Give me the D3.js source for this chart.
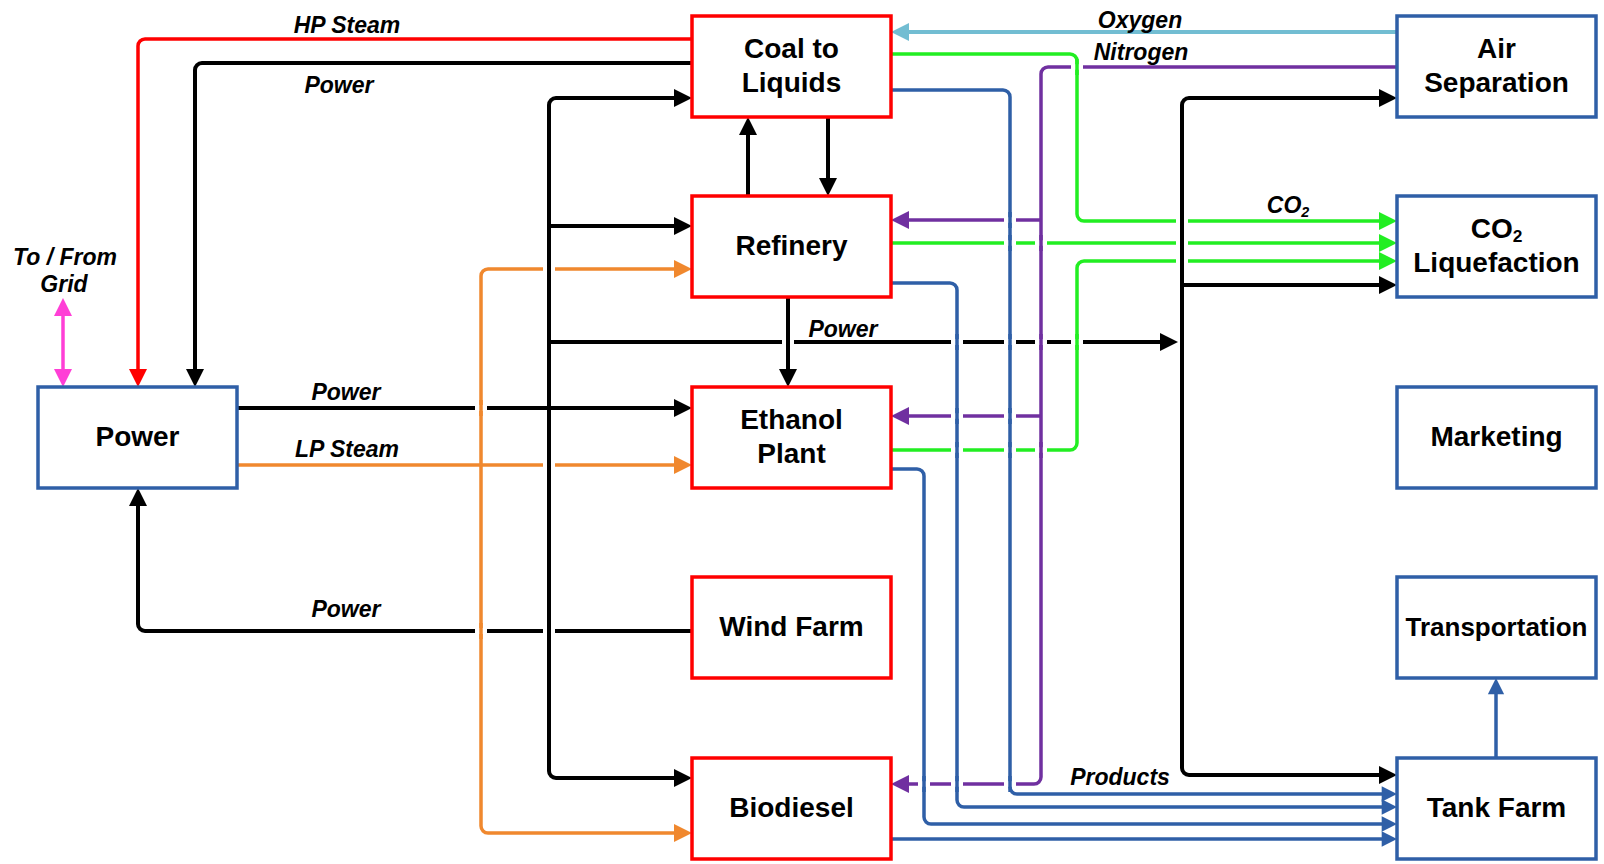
<!DOCTYPE html>
<html>
<head>
<meta charset="utf-8">
<script src="https://cdn.jsdelivr.net/npm/d3@7"></script>
<style>
html, body { margin: 0; background: #fff; }
svg text { font-family: "Liberation Sans", Arial, sans-serif; font-weight: bold; fill: #000; }
</style>
</head>
<body>
<div id="chart"></div>
<script>
// unit names ("\n" splits lines, "_" marks a subscript)
const leftUnits = ["Power"];
const midUnits = ["Coal to\nLiquids", "Refinery", "Ethanol\nPlant", "Wind Farm", "Biodiesel"];
const rightUnits = ["Air\nSeparation", "CO_2\nLiquefaction", "Marketing", "Transportation", "Tank Farm"];

// flow labels
const flowNames = ["HP Steam", "Power", "To / From", "Grid", "Power", "LP Steam", "Power", "Power",
                   "Oxygen", "Nitrogen", "CO_2", "Products"];

//set canvas
let svgWidth = 1604;
let svgHeight = 864;

// layout: columns, rows, lanes
let boxW = 199, boxH = 101;
let colLeft = 38, colMid = 692, colRight = 1397;
let rows = [16, 196, 387, 577, 758];
let midR = colMid + boxW, leftR = colLeft + boxW;

let colors = {
    red: "#ff0000", box: "#2f5fa7", black: "#000000", pink: "#ff3fd6", orange: "#f0882e",
    green: "#22ee22", purple: "#7030a0", sky: "#72bdd2", blue: "#2f5fa7"
};

let svg = d3.select("#chart")
    .append("svg")
    .attr("width", svgWidth)
    .attr("height", svgHeight);

// lanes (x) used by the connectors
let X = { grid: 63, hp: 138, pdown: 195, orange: 481, busL: 549, up: 748, re: 788, down: 828,
          bc: 924, bb: 957, ba: 1010, n: 1041, g: 1077, busR: 1182, tank: 1496 };

// connectors: colour, width, points, arrow at end / start
let links = [
    { c: "red", w: 3.5, p: [[colMid, 39], [X.hp, 39], [X.hp, rows[2]]], e: 1 },
    { c: "black", w: 4, p: [[colMid, 63], [X.pdown, 63], [X.pdown, rows[2]]], e: 1 },
    { c: "pink", w: 3.5, p: [[X.grid, 298], [X.grid, rows[2]]], e: 1, s: 1 },
    { c: "black", w: 4, p: [[colMid, 631], [X.hp, 631], [X.hp, rows[2] + boxH]], e: 1 },
    { c: "black", w: 4, p: [[leftR, 408], [X.busL, 408]] },
    { c: "black", w: 4, p: [[X.busL, 408], [colMid, 408]], e: 1 },
    { c: "black", w: 4, p: [[X.busL, 408], [X.busL, 98], [colMid, 98]], e: 1 },
    { c: "black", w: 4, p: [[X.busL, 408], [X.busL, 778], [colMid, 778]], e: 1 },
    { c: "black", w: 4, p: [[X.busL, 226], [colMid, 226]], e: 1 },
    { c: "black", w: 4, p: [[X.busL, 342], [X.busR - 4, 342]], e: 1 },
    { c: "orange", w: 3.5, p: [[leftR, 465], [X.orange, 465]] },
    { c: "orange", w: 3.5, p: [[X.orange, 465], [colMid, 465]], e: 1 },
    { c: "orange", w: 3.5, p: [[X.orange, 465], [X.orange, 269], [colMid, 269]], e: 1 },
    { c: "orange", w: 3.5, p: [[X.orange, 465], [X.orange, 833], [colMid, 833]], e: 1 },
    { c: "black", w: 4, p: [[X.up, rows[1]], [X.up, rows[0] + boxH]], e: 1 },
    { c: "black", w: 4, p: [[X.down, rows[0] + boxH], [X.down, rows[1]]], e: 1 },
    { c: "black", w: 4, p: [[X.re, rows[1] + boxH], [X.re, rows[2]]], e: 1 },
    { c: "sky", w: 4, p: [[colRight, 32], [midR, 32]], e: 1 },
    { c: "purple", w: 3.5, p: [[colRight, 67], [X.n, 67], [X.n, 784], [midR, 784]], e: 1 },
    { c: "purple", w: 3.5, p: [[X.n, 220], [midR, 220]], e: 1 },
    { c: "purple", w: 3.5, p: [[X.n, 416], [midR, 416]], e: 1 },
    { c: "green", w: 3.5, p: [[midR, 54], [X.g, 54], [X.g, 221], [colRight, 221]], e: 1 },
    { c: "green", w: 3.5, p: [[midR, 243], [colRight, 243]], e: 1 },
    { c: "green", w: 3.5, p: [[midR, 450], [X.g, 450], [X.g, 261], [colRight, 261]], e: 1 },
    { c: "blue", w: 3.5, p: [[midR, 90], [X.ba, 90], [X.ba, 794], [colRight, 794]], e: 1, a: 0.85 },
    { c: "blue", w: 3.5, p: [[midR, 283], [X.bb, 283], [X.bb, 807], [colRight, 807]], e: 1, a: 0.85 },
    { c: "blue", w: 3.5, p: [[midR, 469], [X.bc, 469], [X.bc, 824], [colRight, 824]], e: 1, a: 0.85 },
    { c: "blue", w: 3.5, p: [[midR, 839], [colRight, 839]], e: 1, a: 0.85 },
    { c: "blue", w: 3.5, p: [[X.tank, rows[4]], [X.tank, rows[3] + boxH]], e: 1, a: 0.9 },
    { c: "black", w: 4, p: [[X.busR, 342], [X.busR, 98], [colRight, 98]], e: 1 },
    { c: "black", w: 4, p: [[X.busR, 342], [X.busR, 775], [colRight, 775]], e: 1 },
    { c: "black", w: 4, p: [[X.busR, 285], [colRight, 285]], e: 1 }
];

// label anchors (centre x, baseline y), same order as flowNames
let labelPos = [[347, 33], [339, 93], [65, 265], [64, 292], [346, 400], [347, 457], [346, 617],
                [843, 337], [1140, 28], [1141, 60], [1288, 213], [1120, 785]];

let aLen = 18, aHalf = 9;

// rounded orthogonal path, shortened under arrowheads
function linkPath(d) {
    let pts = d.p.map(q => q.slice());
    let scale = d.a || 1;
    let cut = aLen * scale * 0.6;
    let trim = (i, j) => {
        let dx = pts[i][0] - pts[j][0], dy = pts[i][1] - pts[j][1];
        let L = Math.hypot(dx, dy);
        pts[i][0] -= dx / L * cut; pts[i][1] -= dy / L * cut;
    };
    if (d.e) trim(pts.length - 1, pts.length - 2);
    if (d.s) trim(0, 1);
    let path = d3.path();
    path.moveTo(pts[0][0], pts[0][1]);
    for (let i = 1; i < pts.length - 1; i++) {
        path.arcTo(pts[i][0], pts[i][1], pts[i + 1][0], pts[i + 1][1], 7);
    }
    path.lineTo(pts[pts.length - 1][0], pts[pts.length - 1][1]);
    return path.toString();
}

function arrowHead(tip, from, scale) {
    let dx = tip[0] - from[0], dy = tip[1] - from[1];
    let L = Math.hypot(dx, dy);
    let ux = dx / L, uy = dy / L;
    let len = aLen * scale, half = aHalf * scale;
    let bx = tip[0] - ux * len, by = tip[1] - uy * len;
    return `M${tip[0]},${tip[1]}L${bx - uy * half},${by + ux * half}L${bx + uy * half},${by - ux * half}Z`;
}

// boxes
let boxes = [];
leftUnits.forEach(n => boxes.push({ name: n, x: colLeft, y: rows[2], c: colors.box }));
midUnits.forEach((n, i) => boxes.push({ name: n, x: colMid, y: rows[i], c: colors.red }));
rightUnits.forEach((n, i) => boxes.push({ name: n, x: colRight, y: rows[i], c: colors.box }));

let lineGroup = svg.append("g");

lineGroup.selectAll("path.link")
    .data(links)
    .join("path")
    .attr("class", "link")
    .attr("d", linkPath)
    .attr("fill", "none")
    .attr("stroke", d => colors[d.c])
    .attr("stroke-width", d => d.w);

// arrowheads
let heads = [];
links.forEach(d => {
    let n = d.p.length;
    if (d.e) heads.push({ c: d.c, d: arrowHead(d.p[n - 1], d.p[n - 2], d.a || 1) });
    if (d.s) heads.push({ c: d.c, d: arrowHead(d.p[0], d.p[1], d.a || 1) });
});
lineGroup.selectAll("path.head")
    .data(heads)
    .join("path")
    .attr("class", "head")
    .attr("d", d => d.d)
    .attr("fill", d => colors[d.c]);

// line hops: horizontal lines break where a vertical line crosses
let hSegs = [], vSegs = [];
links.forEach(d => {
    for (let i = 0; i < d.p.length - 1; i++) {
        let [x1, y1] = d.p[i], [x2, y2] = d.p[i + 1];
        if (y1 === y2) hSegs.push({ y: y1, a: Math.min(x1, x2), b: Math.max(x1, x2), l: d });
        else if (x1 === x2) vSegs.push({ x: x1, a: Math.min(y1, y2), b: Math.max(y1, y2), l: d });
    }
});
let hops = [];
hSegs.forEach(h => vSegs.forEach(v => {
    if (v.x > h.a + 2 && v.x < h.b - 2 && h.y > v.a + 2 && h.y < v.b - 2) {
        hops.push({ x: v.x, y: h.y, hw: h.l.w, v: v.l });
    }
}));

lineGroup.selectAll("rect.hop")
    .data(hops)
    .join("rect")
    .attr("class", "hop")
    .attr("x", d => d.x - 6)
    .attr("y", d => d.y - d.hw / 2 - 1)
    .attr("width", 12)
    .attr("height", d => d.hw + 2)
    .attr("fill", "#fff");

lineGroup.selectAll("line.hop")
    .data(hops)
    .join("line")
    .attr("class", "hop")
    .attr("x1", d => d.x).attr("x2", d => d.x)
    .attr("y1", d => d.y - 8).attr("y2", d => d.y + 8)
    .attr("stroke", d => colors[d.v.c])
    .attr("stroke-width", d => d.v.w);

// unit boxes
let boxGroup = svg.selectAll("g.unit")
    .data(boxes)
    .join("g")
    .attr("class", "unit");

boxGroup.append("rect")
    .attr("x", d => d.x)
    .attr("y", d => d.y)
    .attr("width", boxW)
    .attr("height", boxH)
    .attr("fill", "#fff")
    .attr("stroke", d => d.c)
    .attr("stroke-width", 3.5);

// write text with optional subscript
function writeText(sel, str) {
    let parts = str.split("_");
    sel.append("tspan").text(parts[0]);
    if (parts.length > 1) {
        sel.append("tspan")
            .attr("font-size", "0.62em")
            .attr("dy", "0.25em")
            .text(parts[1]);
    }
}

boxGroup.each(function (d) {
    let g = d3.select(this);
    let lines = d.name.split("\n");
    let cx = d.x + boxW / 2, cy = d.y + boxH / 2;
    let base = lines.length === 1 ? [cy + 8] : [cy - 9, cy + 25];
    lines.forEach((ln, i) => {
        let t = g.append("text")
            .attr("x", cx)
            .attr("y", base[i])
            .attr("text-anchor", "middle")
            .attr("font-size", ln === "Transportation" ? 26 : 28);
        writeText(t, ln);
    });
});

// flow labels
svg.selectAll("text.flow")
    .data(flowNames)
    .join("text")
    .attr("class", "flow")
    .attr("x", (d, i) => labelPos[i][0])
    .attr("y", (d, i) => labelPos[i][1])
    .attr("text-anchor", "middle")
    .attr("font-size", 23)
    .attr("font-style", "italic")
    .each(function (d) { writeText(d3.select(this), d); });
</script>
</body>
</html>
